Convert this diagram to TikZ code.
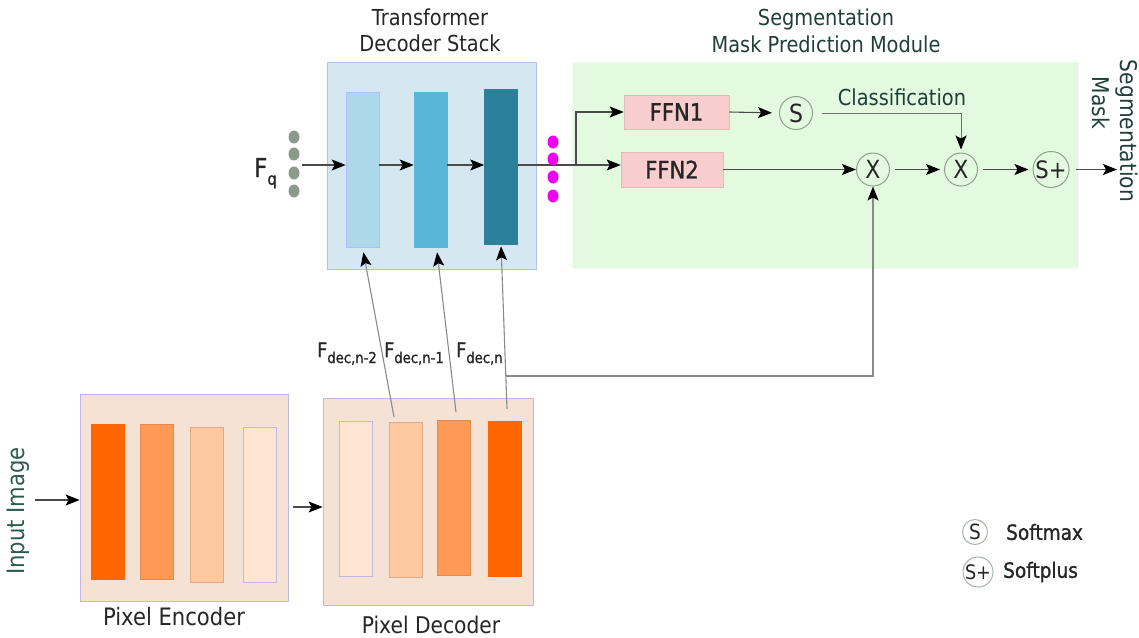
\documentclass[tikz,border=0pt]{standalone}
\usepackage{fontspec}
\setmainfont{DejaVu Sans}[FakeStretch=0.88]
\newfontfamily\semib{DejaVu Sans}[FakeStretch=0.88, FakeBold=1.2]
\usetikzlibrary{arrows.meta,shapes.geometric}

\definecolor{tdsfill}{HTML}{D5E8F2}
\definecolor{tdsdraw}{HTML}{B3BDF0}
\definecolor{tbarA}{HTML}{ACD8EA}
\definecolor{tbarB}{HTML}{5AB6D4}
\definecolor{tbarC}{HTML}{2B8199}
\definecolor{modfill}{HTML}{E3F9E0}
\definecolor{ffnfill}{HTML}{F8CDCD}
\definecolor{ffndraw}{HTML}{E6B8B8}
\definecolor{pixfill}{HTML}{F5E2D5}
\definecolor{pixdraw}{HTML}{C4B6E2}
\definecolor{orA}{HTML}{FF6600}
\definecolor{orB}{HTML}{FF9955}
\definecolor{orC}{HTML}{FFC9A0}
\definecolor{orD}{HTML}{FFE4D2}
\definecolor{qdot}{HTML}{8C9A8C}
\definecolor{odot}{HTML}{F000F0}
\definecolor{opdraw}{HTML}{8FA08F}
\definecolor{txt}{HTML}{262626}
\definecolor{tealtxt}{HTML}{2C5A50}
\definecolor{wire}{HTML}{4A4A4A}
\definecolor{feedwire}{HTML}{8A8A8A}

\newcommand{\fsz}[1]{\fontsize{#1}{#1}\selectfont}
\newcommand{\sublbl}[3]{{\semib\fsz{#1}F\raisebox{-0.3em}{\fsz{#2}#3}}}

\tikzset{
  panel/.style={draw, rectangle, inner sep=0pt, line width=0.8pt},
  bar/.style={draw, rectangle, inner sep=0pt, line width=0.6pt, minimum width=33, minimum height=155},
  ffn/.style={draw=ffndraw, fill=ffnfill, rectangle, inner sep=0pt, line width=0.6pt,
    text=txt, font=\semib\fsz{24}},
  op/.style={draw=opdraw, circle, inner sep=0pt, line width=1pt, minimum size=33,
    text=txt, font=\fsz{25}},
  legop/.style={draw=opdraw!80, circle, inner sep=0pt, line width=1pt, minimum size=25,
    text=txt, font=\fsz{21}},
  qd/.style={ellipse, fill=#1, draw=none, minimum width=11, minimum height=13, inner sep=0pt},
  title/.style={align=center, text=txt, font=\fsz{22}, inner sep=0pt},
  tip/.style={-{Stealth[length=14pt,width=11pt,inset=3pt,color=black]}},
  arr/.style={draw=wire, line width=1.1pt, tip},
  wireline/.style={draw=wire, line width=1.1pt},
  feed/.style={draw=feedwire, line width=1.1pt, tip}
}

\begin{document}
\begin{tikzpicture}[x=1pt,y=-1pt]
\useasboundingbox (0,0) rectangle (1139,637);

% ---------- transformer decoder stack ----------
\node[panel, fill=tdsfill, draw=tdsdraw, minimum width=209, minimum height=207] (tds) at (431.5,165.5) {};
\node[title] (tdstitle) at (430,30) {Transformer\\[4pt]Decoder Stack};
\node[bar, fill=tbarA, draw=tbarA!70!blue!60] (t1) at (362.5,169.5) {};
\node[bar, fill=tbarB, draw=tbarB] (t2) at (430.5,169.5) {};
\node[bar, fill=tbarC, draw=tbarC] (t3) at (501,166.5) {};

% ---------- mask prediction module ----------
\node[panel, fill=modfill, draw=modfill!90!black!20, minimum width=506, minimum height=206] (mod) at (825.5,165) {};
\node[title, text=tealtxt!70!black] (modtitle) at (826,31) {Segmentation\\[5pt]Mask Prediction Module};
\node[ffn, minimum width=105, minimum height=34] (ffn1) at (676.5,112) {FFN1};
\node[ffn, minimum width=102, minimum height=35] (ffn2) at (672,169.5) {FFN2};
\node[op] (s1) at (796,113) {S};
\node[op] (x1) at (873,169.5) {X};
\node[op] (x2) at (961,169.5) {X};
\node[op, font=\fsz{24}] (sp) at (1051,169.5) {S+};
\node[text=tealtxt!70!black, font=\fsz{22}, inner sep=0pt] (cls) at (902,97) {Classification};
\node[rotate=-90, text=tealtxt!70!black, font=\fsz{23}, inner sep=0pt] (segl) at (1127,131) {Segmentation};
\node[rotate=-90, text=tealtxt!70!black, font=\fsz{23}, inner sep=0pt] (maskl) at (1101,103) {Mask};

% ---------- query input ----------
\node[text=txt, inner sep=0pt, anchor=base west] (fq) at (254,177) {\sublbl{26}{17}{q}};
\node[qd=qdot] (q1) at (294,137) {};
\node[qd=qdot] (q2) at (294,154) {};
\node[qd=qdot] (q3) at (294,173) {};
\node[qd=qdot] (q4) at (294,191) {};
\coordinate (fqout) at (302,165);
\coordinate (br) at (576,165);

\draw[arr] (fqout) -- (fqout -| t1.west);
\draw[arr] (t1.east |- fqout) -- (t2.west |- fqout);
\draw[arr] (t2.east |- fqout) -- (t3.west |- fqout);
\draw[wireline] (t3.east |- fqout) -- (br);
\draw[arr] (br) |- (ffn1.west);
\draw[arr] (br) -- (br -| ffn2.west);

\node[qd=odot] (o1) at (553,142) {};
\node[qd=odot] (o2) at (553,159) {};
\node[qd=odot] (o3) at (553,177) {};
\node[qd=odot] (o4) at (553,196) {};

% ---------- module wiring ----------
\coordinate (out) at (1117,169.5);
\draw[arr, shorten >=7pt] (ffn1.east) -- (s1.west);
\draw[arr, draw=wire!80, line width=0.9pt, shorten <=9pt, shorten >=3pt] (s1.east) -| (x2.north);
\draw[arr] (ffn2.east) -- (x1.west);
\draw[arr, shorten <=5pt, shorten >=4pt] (x1.east) -- (x2.west);
\draw[arr, shorten <=5pt, shorten >=4pt] (x2.east) -- (sp.west);
\draw[arr, shorten <=6pt] (sp.east) -- (out);

% ---------- pixel encoder ----------
\node[panel, fill=pixfill, draw=pixdraw, minimum width=208, minimum height=207] (enc) at (184,497.5) {};
\node[bar, fill=orA, draw=orA] (e1) at (107.5,501.5) {};
\node[bar, fill=orB, draw=orB!90!black] (e2) at (156.5,502) {};
\node[bar, fill=orC, draw=orC!85!black] (e3) at (206.5,504.5) {};
\node[bar, fill=orD, draw=pixdraw] (e4) at (260,504.5) {};
\node[title, font=\fsz{24}] (enctitle) at (174,617) {Pixel Encoder};
\node[rotate=90, text=tealtxt, font=\fsz{24}, inner sep=0pt] (inimg) at (18,511) {Input Image};
\coordinate (inp) at (35,500);
\draw[arr] (inp) -- (inp -| enc.west);

% ---------- pixel decoder ----------
\node[panel, fill=pixfill, draw=pixdraw, minimum width=210, minimum height=207] (dec) at (428,501.5) {};
\node[bar, fill=orD, draw=pixdraw] (d1) at (355.5,498.5) {};
\node[bar, fill=orC, draw=orC!85!black] (d2) at (405.5,499.5) {};
\node[bar, fill=orB, draw=orB!90!black] (d3) at (453.5,498) {};
\node[bar, fill=orA, draw=orA] (d4) at (504.5,499) {};
\node[title, font=\fsz{23}] (dectitle) at (431,625) {Pixel Decoder};
\coordinate (mid) at (293,507);
\draw[arr] (mid) -- (mid -| dec.west);

% ---------- decoder features into the stack ----------
\coordinate (f1) at (394,417);
\coordinate (f2) at (456,412);
\coordinate (f3) at (507,409);
\draw[feed, shorten >=5pt] (f1) -- (t1.south);
\draw[feed, shorten >=5pt] (f2) -- ([xshift=6pt]t2.south);
\draw[feed, shorten >=2pt] (f3) -- (t3.south);
\coordinate (j) at (506,376);
\draw[arr, draw=feedwire] (j) -| (x1.south);

\node[text=txt, inner sep=0pt, anchor=base west] (fd2) at (317,357) {\sublbl{20}{15}{dec,n-2}};
\node[text=txt, inner sep=0pt, anchor=base west] (fd1) at (384,357) {\sublbl{20}{15}{dec,n-1}};
\node[text=txt, inner sep=0pt, anchor=base west] (fd0) at (456,357) {\sublbl{20}{15}{dec,n}};

% ---------- legend ----------
\node[legop] (lgs) at (975,532) {S};
\node[text=txt, font=\semib\fsz{21}, anchor=west, inner sep=0pt] (lgst) at (1006,532) {Softmax};
\node[legop, font=\fsz{20}] (lgsp) at (978,572) {S+};
\node[text=txt, font=\semib\fsz{21}, anchor=west, inner sep=0pt] (lgspt) at (1003,572) {Softplus};
\end{tikzpicture}
\end{document}
